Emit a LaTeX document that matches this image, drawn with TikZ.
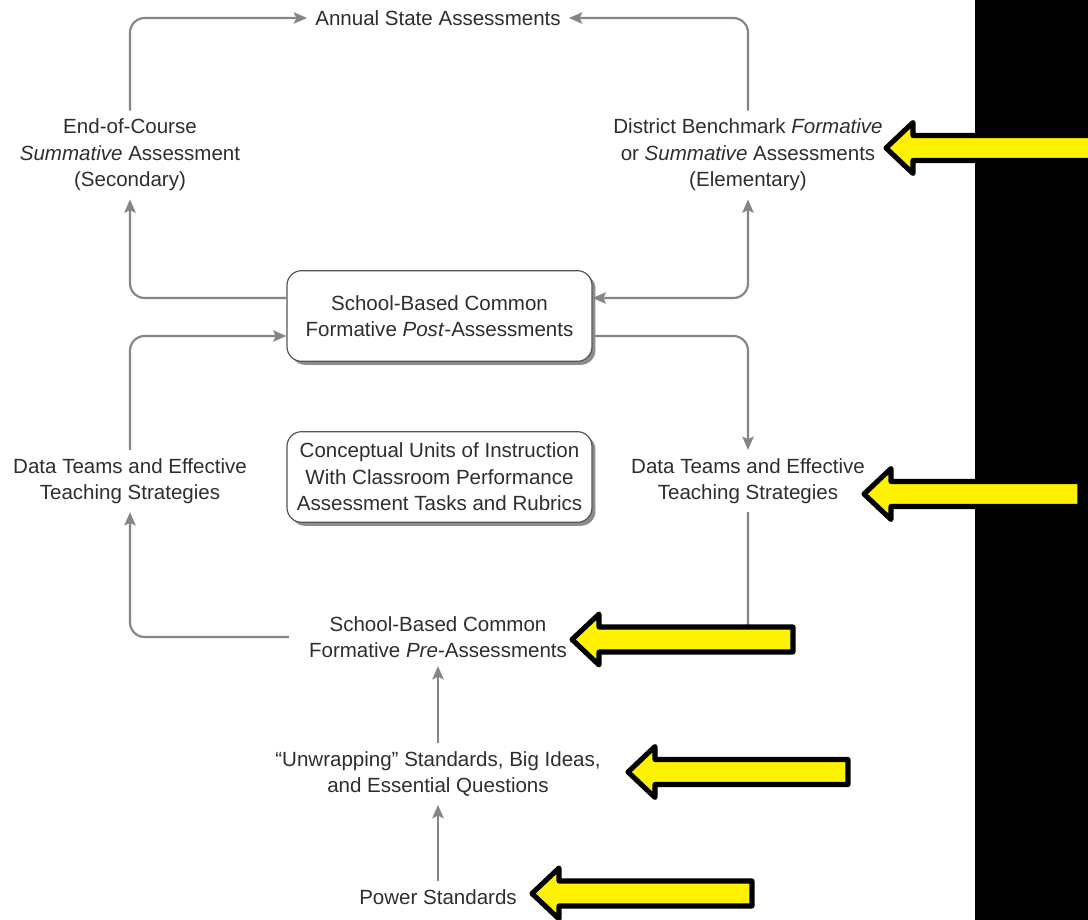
\documentclass[tikz,border=0pt]{standalone}
\usepackage{fontspec}
\setmainfont{Liberation Sans}
\usetikzlibrary{arrows.meta,calc,shadows}
\definecolor{ink}{HTML}{2E2E2E}
\definecolor{wire}{HTML}{858585}
\definecolor{boxline}{HTML}{555555}
\tikzset{
  txt/.style={text=ink, align=center, inner sep=6pt,
    font=\fontsize{15.4pt}{19.9pt}\selectfont},
  panel/.style={txt, draw=boxline, line width=0.9pt, fill=white,
    rounded corners=11pt, minimum width=228.75pt, minimum height=68pt,
    drop shadow={shadow xshift=2.6pt, shadow yshift=-2.6pt, fill=black!45, opacity=1}},
  conn/.style={draw=wire, line width=1.6pt, rounded corners=11pt,
    -{Stealth[length=10pt,width=8.5pt,inset=2pt]}},
  both/.style={conn, {Stealth[length=10pt,width=8.5pt,inset=2pt]}-{Stealth[length=10pt,width=8.5pt,inset=2pt]}},
  plain/.style={draw=wire, line width=1.6pt, rounded corners=11pt},
  yarrow/.style={fill=yellow, draw=black, line width=3.8pt, line join=round}
}
% left-pointing block arrow: tip x, tip y, tail x
\newcommand\pointer[3]{%
  \draw[yarrow] (#1,#2) -- (#1+27,#2-25.5) -- (#1+27,#2-12.5) -- (#3,#2-12.5)
    -- (#3,#2+12.5) -- (#1+27,#2+12.5) -- (#1+27,#2+25.5) -- cycle;}
\begin{document}
\begin{tikzpicture}[x=0.75pt,y=-0.75pt]
\useasboundingbox (0,0) rectangle (1088,920);
\fill[white] (0,0) rectangle (1088,920);
\fill[black] (975,0) rectangle (1088,920);

% stages
\node[txt] (ann) at (438,18) {Annual State Assessments};
\node[txt] (eoc) at (130,155) {End-of-Course\\\textit{Summative} Assessment\\(Secondary)};
\node[txt] (dist) at (748,155) {District Benchmark \textit{Formative}\\or \textit{Summative} Assessments\\(Elementary)};
\node[panel] (post) at (439.5,316) {School-Based Common\\Formative \textit{Post}-Assessments};
\node[panel] (cu) at (439.5,477) {Conceptual Units of Instruction\\With Classroom Performance\\Assessment Tasks and Rubrics};
\node[txt] (dtl) at (130,481) {Data Teams and Effective\\Teaching Strategies};
\node[txt] (dtr) at (748,481) {Data Teams and Effective\\Teaching Strategies};
\node[txt, inner xsep=15pt] (pre) at (438,637) {School-Based Common\\Formative \textit{Pre}-Assessments};
\node[txt] (unw) at (438,774) {“Unwrapping” Standards, Big Ideas,\\and Essential Questions};
\node[txt] (pow) at (438,897) {Power Standards};

% connectors
\draw[conn] (eoc.north) |- (ann.west);
\draw[conn] (dist.north) |- (ann.east);
\draw[conn] ($(post.west)+(0,-18)$) -| (eoc.south);
\draw[both] ($(post.east)+(0,-18)$) -| (dist.south);
\draw[conn] (dtl.north) |- ($(post.west)+(0,20)$);
\draw[conn] ($(post.east)+(0,20)$) -| (dtr.north);
\draw[conn] (pre.west) -| (dtl.south);
\draw[plain] (dtr.south) |- (pre.east);
\draw[conn] (unw.north) -- (pre.south);
\draw[conn] (pow.north) -- (unw.south);

% highlight arrows
\pointer{886}{148}{1100}
\pointer{864}{494}{1080}
\pointer{572}{639.5}{793}
\pointer{628}{772}{848}
\pointer{532}{893.5}{752}
\end{tikzpicture}
\end{document}
